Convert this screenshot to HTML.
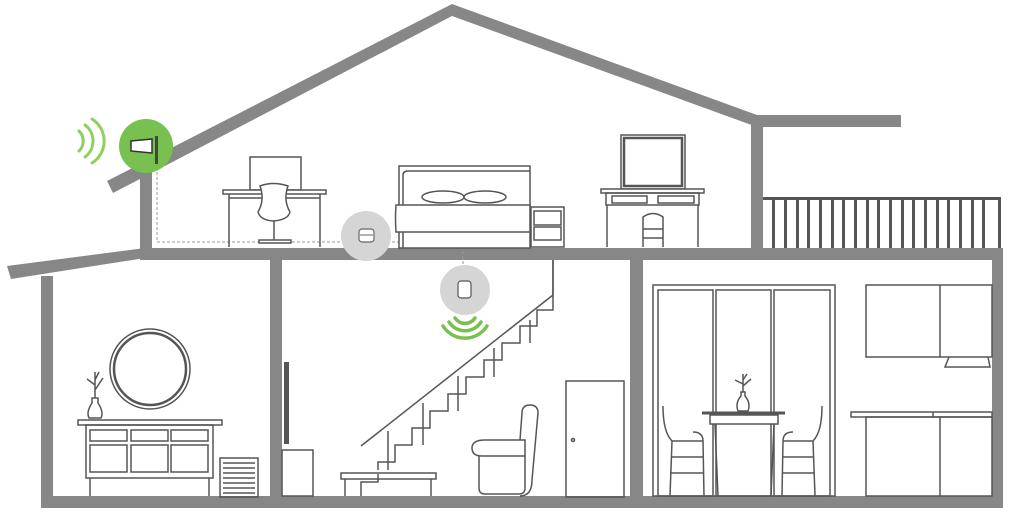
<!DOCTYPE html>
<html><head><meta charset="utf-8"><style>html,body{margin:0;padding:0;background:#fff}svg{display:block}</style></head>
<body>
<svg width="1024" height="518" viewBox="0 0 1024 518" xmlns="http://www.w3.org/2000/svg">
<g fill="#878787">
<!-- roof -->
<polygon points="107,181 452,4 757,115 757,127 452,16 113,193"/>
<rect x="751" y="115" width="150" height="12"/>
<rect x="751" y="121" width="12" height="130"/>
<rect x="140" y="168" width="12" height="84"/>
<rect x="140" y="248" width="863" height="12"/>
<polygon points="7,266 145,248 145,258 11,279"/>
<rect x="41" y="276" width="12" height="232"/>
<rect x="41" y="496" width="962" height="12"/>
<rect x="270" y="258" width="12" height="242"/>
<rect x="630" y="258" width="13" height="242"/>
<rect x="992" y="248" width="11" height="252"/>
</g>
<!-- dashed cable -->
<polyline points="157,172 157,242 463,242 463,272" fill="none" stroke="#999" stroke-width="1" stroke-dasharray="3,2"/>
<!-- antenna -->
<circle cx="146" cy="146" r="27" fill="#78c150"/>
<polygon points="131,141 152,139 152,153 131,151" fill="#fff" stroke="#333" stroke-width="1.5"/>
<rect x="155" y="136" width="3" height="28" fill="#444"/>
<g fill="none" stroke="#8dd060" stroke-width="3" stroke-linecap="round">
<path d="M79,131 A14,14 0 0 1 79,151"/>
<path d="M85,125 A20,20 0 0 1 85,157"/>
<path d="M92,119 A26,26 0 0 1 92,163"/>
</g>
<!-- indoor units -->
<circle cx="366" cy="236" r="25" fill="#d5d5d5"/>
<rect x="359" y="229" width="15" height="13" rx="3" fill="#fff" stroke="#666" stroke-width="1.2"/>
<line x1="360" y1="235" x2="373" y2="235" stroke="#666"/>
<circle cx="465" cy="290" r="25" fill="#d5d5d5"/>
<rect x="458" y="281" width="13" height="17" rx="3" fill="#fff" stroke="#555" stroke-width="1.2"/>
<g fill="none" stroke="#78c150" stroke-width="3.5" stroke-linecap="round">
<path d="M455,318 A12,12 0 0 0 475,318"/>
<path d="M449,322 A19,19 0 0 0 481,322"/>
<path d="M443,326 A26,26 0 0 0 487,326"/>
</g>
<g fill="none" stroke="#555" stroke-width="1.5">
<!-- desk -->
<rect x="250" y="157" width="51" height="33" fill="#fff"/>
<rect x="223" y="190" width="103" height="4" fill="#fff"/>
<line x1="229" y1="194" x2="229" y2="247"/><line x1="320" y1="194" x2="320" y2="247"/>
<line x1="229" y1="198" x2="320" y2="198"/>
<path d="M260,186 Q273,181 288,186 Q283,200 290,212 Q288,220 273,221 Q260,220 258,212 Q265,200 260,186Z" fill="#fff"/>
<line x1="274" y1="221" x2="274" y2="240"/>
<rect x="259" y="240" width="32" height="3" fill="#fff"/>
<!-- bed -->
<rect x="399" y="166" width="131" height="82" fill="#fff"/>
<path d="M403,248 V175 Q403,171 408,171 H530"/>
<path d="M396,205 H530 V232 H396 Q395,218 396,205Z" fill="#fff"/>
<ellipse cx="443" cy="197" rx="21" ry="6" fill="#fff"/><ellipse cx="485" cy="197" rx="21" ry="6" fill="#fff"/>
<!-- nightstand -->
<rect x="531" y="207" width="33" height="40" fill="#fff"/>
<rect x="534" y="211" width="27" height="14"/><rect x="534" y="227" width="27" height="13"/>
<!-- vanity -->
<rect x="621" y="135" width="64" height="54" fill="#fff"/>
<rect x="624" y="138" width="58" height="48" stroke-width="2.5"/>
<rect x="601" y="189" width="103" height="4" fill="#fff"/>
<rect x="606" y="193" width="93" height="12"/>
<rect x="612" y="196" width="35" height="7"/><rect x="658" y="196" width="36" height="7"/>
<line x1="607" y1="205" x2="607" y2="247"/><line x1="698" y1="205" x2="698" y2="247"/>
<path d="M643,247 V217 Q653,210 663,217 V247 M643,229 H663 M643,238 H663"/>
<!-- left room -->
<circle cx="150" cy="369" r="40" stroke-width="1.5"/><circle cx="150" cy="369" r="36" stroke-width="2.5"/>
<rect x="78" y="420" width="144" height="5"/>
<rect x="86" y="425" width="127" height="53"/>
<rect x="90" y="430" width="37" height="11"/><rect x="131" y="430" width="37" height="11"/><rect x="171" y="430" width="37" height="11"/>
<rect x="90" y="445" width="37" height="27"/><rect x="131" y="445" width="37" height="27"/><rect x="171" y="445" width="37" height="27"/>
<line x1="90" y1="478" x2="90" y2="496"/><line x1="209" y1="478" x2="209" y2="496"/>
<path d="M92,403 Q86,412 89,418 H101 Q104,412 98,403 V398 H92Z"/>
<path d="M95,398 V372 M95,385 L87,379 M95,390 L103,378 M95,380 L99,372" />
<rect x="220" y="458" width="38" height="39"/>
<path d="M223,463 H255 M223,468 H255 M223,473 H255 M223,478 H255 M223,483 H255 M223,488 H255 M223,493 H255"/>
<!-- stairs room -->
<rect x="282" y="450" width="31" height="46"/>
<line x1="361" y1="446" x2="553" y2="295"/>
<line x1="553" y1="260" x2="553" y2="295"/>
<path d="M378,470 V462 H395 V445 H412 V428 H430 V411 H448 V394 H466 V377 H484 V360 H502 V343 H520 V326 H537 V310 H553 V260"/>
<path d="M388,431 V470 M423,403 V445 M458,376 V411 M494,348 V377 M530,320 V343"/>
<rect x="341" y="473" width="95" height="6"/>
<line x1="345" y1="479" x2="345" y2="496"/><line x1="431" y1="479" x2="431" y2="496"/>
<path d="M361,496 V482 H378 V474"/>
<path d="M520,496 Q532,496 532,480 L538,413 Q538,405 530,405 Q522,405 522,413 L520,440"/>
<path d="M485,440 H525 V488 Q525,494 519,494 H485 Q479,494 479,488 V455"/>
<path d="M485,440 Q472,440 472,448 Q472,456 482,456 H525"/>
<rect x="566" y="381" width="58" height="116"/>
<circle cx="573" cy="440" r="1.5"/>
<!-- right room -->
<rect x="653" y="285" width="182" height="211"/>
<rect x="658" y="290" width="55" height="206"/><rect x="716" y="290" width="55" height="206"/><rect x="774" y="290" width="56" height="206"/>
<rect x="710" y="415" width="68" height="9" fill="#fff"/>
<line x1="702" y1="413" x2="785" y2="413" stroke-width="3"/>
<path d="M715,424 L718,496 M774,424 L771,496"/>
<path d="M738,411 Q735,403 741,396 V392 H745 V396 Q751,403 748,411Z"/>
<path d="M743,392 V374 M743,384 L735,380 M743,386 L751,379 M743,380 L747,374"/>
<path d="M663,406 Q663,432 672,441 H703 Q703,432 693,432 M672,441 L670,496 M703,441 L704,496 M671,457 H703 M670,473 H704"/>
<path d="M822,406 Q822,432 813,441 H783 Q783,432 793,432 M813,441 L815,496 M783,441 L782,496 M783,457 H814 M782,473 H815"/>
<rect x="866" y="285" width="126" height="72"/><line x1="940" y1="285" x2="940" y2="357"/>
<path d="M949,357 L945,367 H990 L988,357"/>
<rect x="851" y="412" width="141" height="5"/><line x1="933" y1="412" x2="933" y2="417"/>
<rect x="866" y="417" width="126" height="79"/><line x1="940" y1="417" x2="940" y2="496"/>
</g>
<!-- TV -->
<rect x="284" y="362" width="5" height="82" fill="#555"/>
<!-- railing -->
<g fill="#555">
<rect x="763" y="197" width="238" height="3"/>
<rect x="772" y="197" width="3" height="51"/><rect x="784" y="197" width="3" height="51"/><rect x="796" y="197" width="3" height="51"/><rect x="807" y="197" width="3" height="51"/><rect x="819" y="197" width="3" height="51"/><rect x="831" y="197" width="3" height="51"/><rect x="842" y="197" width="3" height="51"/><rect x="854" y="197" width="3" height="51"/><rect x="866" y="197" width="3" height="51"/><rect x="877" y="197" width="3" height="51"/><rect x="889" y="197" width="3" height="51"/><rect x="901" y="197" width="3" height="51"/><rect x="912" y="197" width="3" height="51"/><rect x="924" y="197" width="3" height="51"/><rect x="936" y="197" width="3" height="51"/><rect x="947" y="197" width="3" height="51"/><rect x="959" y="197" width="3" height="51"/><rect x="971" y="197" width="3" height="51"/><rect x="982" y="197" width="3" height="51"/><rect x="998" y="197" width="3" height="51"/>
</g>
</svg>
</body></html>
